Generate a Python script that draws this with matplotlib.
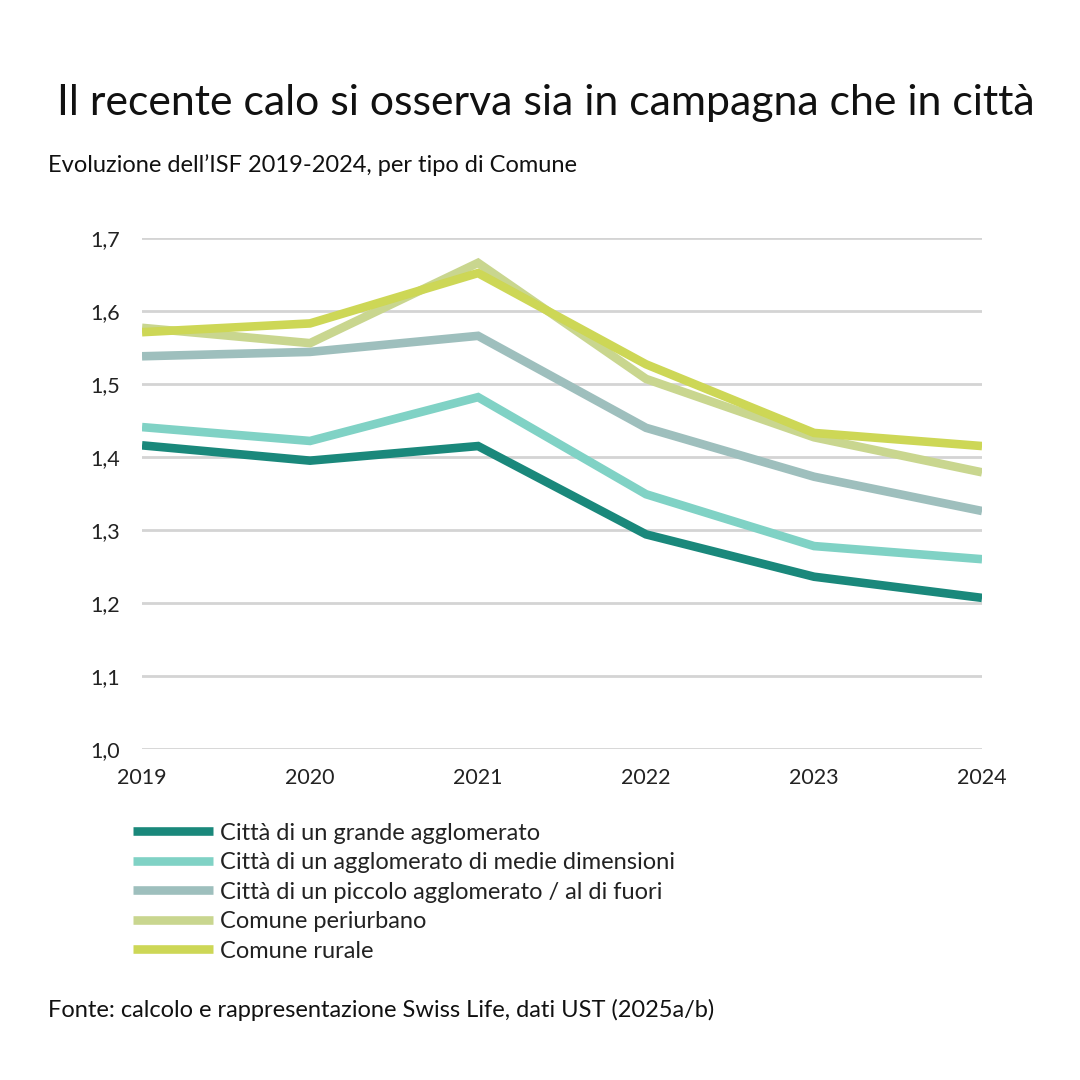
import numpy as np
import matplotlib.pyplot as plt

# ---------------------------------------------- data ----------------------------------------------
anni = [2019, 2020, 2021, 2022, 2023, 2024]
grande = [1.416, 1.395, 1.415, 1.294, 1.236, 1.207]
medie = [1.441, 1.422, 1.482, 1.349, 1.278, 1.260]
piccolo = [1.538, 1.544, 1.566, 1.440, 1.373, 1.326]
periurbano = [1.577, 1.556, 1.666, 1.507, 1.427, 1.379]
rurale = [1.571, 1.583, 1.652, 1.527, 1.433, 1.415]

serie = [grande, medie, piccolo, periurbano, rurale]
etichette = ['Città di un grande agglomerato',
             'Città di un agglomerato di medie dimensioni',
             'Città di un piccolo agglomerato / al di fuori',
             'Comune periurbano',
             'Comune rurale']
colori = ['#1a887b', '#80d2c5', '#9ebfbd', '#c9d68f', '#cdd756']
yticks = [1.0, 1.1, 1.2, 1.3, 1.4, 1.5, 1.6, 1.7]

plt.rcParams['font.family'] = ['Lato', 'DejaVu Sans']

fig = plt.figure(figsize=(10.8, 10.8), dpi=100)
ax = fig.add_axes([0.1315, 0.3065, 0.9093 - 0.1315, 0.7796 - 0.3065])

# ---------------------------------------------- lines ----------------------------------------------
for s, lab, c in zip(serie, etichette, colori):
    ax.plot(anni, s, color=c, linewidth=6.2, label=lab, solid_joinstyle='miter', solid_capstyle='butt')

ax.set_xlim(2019, 2024)
ax.set_ylim(1.0, 1.7)
ax.set_yticks(yticks)
ax.set_yticklabels([('%.1f' % v).replace('.', ',') for v in yticks])
ax.set_xticks(anni)
ax.grid(axis='y', color='#d4d4d4', linewidth=2)
ax.set_axisbelow(True)
for sp in ax.spines.values():
    sp.set_visible(False)
ax.tick_params(axis='both', length=0, labelsize=15.5, colors='#222222')
ax.tick_params(axis='y', pad=16)
ax.tick_params(axis='x', pad=14)

# ---------------------------------------------- texts ----------------------------------------------
fig.text(0.505, 0.905, 'Il recente calo si osserva sia in campagna che in città',
         ha='center', va='center', fontsize=30.8, color='#111111')
fig.text(0.044, 0.847, 'Evoluzione dell\u2019ISF 2019-2024, per tipo di Comune',
         ha='left', va='center', fontsize=17, color='#111111')
fig.text(0.044, 0.065, 'Fonte: calcolo e rappresentazione Swiss Life, dati UST (2025a/b)',
         ha='left', va='center', fontsize=17, color='#111111')

leg = fig.legend(loc='upper left', bbox_to_anchor=(0.123, 0.2384), frameon=False,
                 fontsize=17, handlelength=3.4, handletextpad=0.3, labelspacing=0.36,
                 borderpad=0, borderaxespad=0, labelcolor='#222222')
for h in leg.get_lines():
    h.set_linewidth(6.2)

plt.savefig('out.png', dpi=100)
